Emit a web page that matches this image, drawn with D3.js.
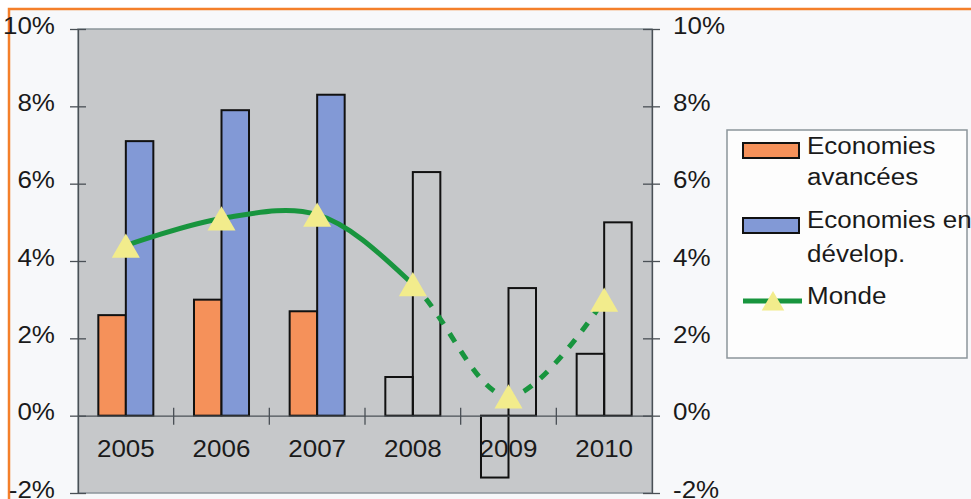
<!DOCTYPE html>
<meta charset="utf-8">
<style>
body { margin: 0; background: #fff; }
svg { display: block; font-family: "Liberation Sans", Arial, sans-serif; }
.axe text { font-size: 23px; fill: #1a1a1a; }
.axe path, .axe line { stroke: #4a5056; stroke-width: 1.3px; }
</style>
<svg width="971" height="499"></svg>
<script src="https://d3js.org/d3.v7.min.js"></script>
<script>

// donnees
var annees = ["2005", "2006", "2007", "2008", "2009", "2010"];
var avancees = [2.6, 3.0, 2.7, 1.0, -1.6, 1.6];
var enDevelop = [7.1, 7.9, 8.3, 6.3, 3.3, 5.0];
var monde = [4.4, 5.1, 5.2, 3.4, 0.5, 3.0];
var prevision = [false, false, false, true, true, true];
var yTicks = [-2, 0, 2, 4, 6, 8, 10];
var series = ["Economies avancées", "Economies en dévelop."];

var svg = d3.select("svg"),
    width = +svg.attr("width"),
    height = +svg.attr("height");

var sx = 1.13; // les textes de l'image sont un peu etires

var orange = "#f5915a", bleu = "#8299d6", vert = "#18953e", jaune = "#f2ec8c", gris = "#c6c8ca";

// fond + cadre orange
svg.append("rect").attr("x", 9).attr("y", 9).attr("width", width + 20).attr("height", height + 20)
    .attr("fill", "#f7f8fa").attr("stroke", "#f47f2a").attr("stroke-width", 2.5);

var x = d3.scaleBand().domain(annees).range([78, 652]).paddingInner(0.425).paddingOuter(0.2125);
var x1 = d3.scaleBand().domain([0, 1]).range([0, x.bandwidth()]);
var y = d3.scaleLinear().domain([-2, 10]).range([493, 29]);

// zone de trace
svg.append("rect").attr("x", 78).attr("y", 29).attr("width", 574).attr("height", 464)
    .attr("fill", gris).attr("stroke", "#8c959b").attr("stroke-width", 1.5);

// barres
var rows = annees.map(function(a, i) {
  return { annee: a, vals: [avancees[i], enDevelop[i]], prev: prevision[i] };
});

var groupes = svg.append("g").selectAll("g")
  .data(rows)
  .enter().append("g")
    .attr("transform", function(d) { return "translate(" + x(d.annee) + ",0)"; });

groupes.selectAll("rect")
  .data(function(d) { return d.vals.map(function(v, j) { return { v: v, j: j, prev: d.prev }; }); })
  .enter().append("rect")
    .attr("x", function(d) { return x1(d.j); })
    .attr("width", x1.bandwidth())
    .attr("y", function(d) { return y(Math.max(0, d.v)); })
    .attr("height", function(d) { return Math.abs(y(d.v) - y(0)); })
    .attr("fill", function(d) { return d.prev ? "none" : (d.j === 0 ? orange : bleu); })
    .attr("stroke", "#111")
    .attr("stroke-width", 2);

// axe gauche
var axeG = svg.append("g").attr("class", "axe").attr("transform", "translate(78,0)")
    .call(d3.axisLeft(y).tickValues(yTicks).tickSize(8).tickSizeOuter(0).tickPadding(12.4)
      .tickFormat(function(d) { return d + "%"; }));
axeG.selectAll(".tick line").attr("x1", 8).attr("x2", -8);
axeG.selectAll("text").attr("dy", "0.18em").attr("transform", "scale(" + sx + ",1)");

// axe droit
var axeD = svg.append("g").attr("class", "axe").attr("transform", "translate(652,0)")
    .call(d3.axisRight(y).tickValues(yTicks).tickSize(8).tickSizeOuter(0).tickPadding(10.6)
      .tickFormat(function(d) { return d + "%"; }));
axeD.selectAll(".tick line").attr("x1", -9).attr("x2", 8);
axeD.selectAll("text").attr("dy", "0.18em").attr("transform", "scale(" + sx + ",1)");

// axe des annees sur la ligne 0
var axeX = svg.append("g").attr("class", "axe").attr("transform", "translate(0," + y(0) + ")")
    .call(d3.axisBottom(x).tickSize(0).tickSizeOuter(0).tickPadding(25.5));
axeX.selectAll("text").attr("transform", "scale(" + sx + ",1)")
    .attr("x", function() { return 0; });
axeX.selectAll(".tick text").each(function() {
  // garder le texte centre malgre l'etirement
  d3.select(this).attr("transform", "scale(" + sx + ",1)");
});
var pasX = x.step();
axeX.selectAll(".sep")
  .data(annees.slice(1))
  .enter().append("line")
    .attr("class", "sep")
    .attr("x1", function(d) { return x(d) - pasX * x.paddingInner() / 2; })
    .attr("x2", function(d) { return x(d) - pasX * x.paddingInner() / 2; })
    .attr("y1", -8).attr("y2", 9);

// courbe Monde
var pts = annees.map(function(a, i) { return [x(a) + x.bandwidth() / 2, y(monde[i])]; });
var ligne = d3.line().curve(d3.curveCatmullRom.alpha(0.5));
var coupe = pts[3][0];

var defs = svg.append("defs");
defs.append("clipPath").attr("id", "avant").append("rect")
    .attr("x", 0).attr("y", 0).attr("width", coupe).attr("height", height);
defs.append("clipPath").attr("id", "apres").append("rect")
    .attr("x", coupe).attr("y", 0).attr("width", width - coupe).attr("height", height);

svg.append("path").attr("d", ligne(pts)).attr("fill", "none")
    .attr("stroke", vert).attr("stroke-width", 5).attr("clip-path", "url(#avant)");
svg.append("path").attr("d", ligne(pts)).attr("fill", "none")
    .attr("stroke", vert).attr("stroke-width", 5).attr("stroke-dasharray", "10,11")
    .attr("stroke-dashoffset", -230).attr("clip-path", "url(#apres)");

var tailleTri = 340;
var rTri = Math.sqrt(tailleTri / (3 * Math.sqrt(3)));
svg.append("g").selectAll("path")
  .data(pts)
  .enter().append("path")
    .attr("d", d3.symbol(d3.symbolTriangle, tailleTri))
    .attr("transform", function(d) { return "translate(" + d[0] + "," + (d[1] + rTri / 2) + ")"; })
    .attr("fill", jaune);

// legende
var leg = svg.append("g");
leg.append("rect").attr("x", 727).attr("y", 130).attr("width", 240).attr("height", 228)
    .attr("fill", "#fdfdfd").attr("stroke", "#8c959b").attr("stroke-width", 1.5);

var legTextes = [
  { t: "Economies", y: 154 }, { t: "avancées", y: 185 },
  { t: "Economies en", y: 228 }, { t: "dévelop.", y: 262 },
  { t: "Monde", y: 304 }
];
leg.selectAll("text")
  .data(legTextes)
  .enter().append("text")
    .attr("transform", function(d) { return "translate(807," + d.y + ") scale(" + sx + ",1)"; })
    .attr("font-size", 23)
    .attr("fill", "#1a1a1a")
    .text(function(d) { return d.t; });

leg.selectAll(".swatch")
  .data([orange, bleu])
  .enter().append("rect")
    .attr("class", "swatch")
    .attr("x", 743).attr("y", function(d, i) { return i === 0 ? 143 : 218; })
    .attr("width", 56).attr("height", 15)
    .attr("fill", function(d) { return d; })
    .attr("stroke", "#111").attr("stroke-width", 2);

leg.append("line").attr("x1", 743).attr("x2", 802).attr("y1", 301).attr("y2", 301)
    .attr("stroke", vert).attr("stroke-width", 5);
leg.append("path").attr("d", d3.symbol(d3.symbolTriangle, 220))
    .attr("transform", "translate(773," + (301 + 3) + ")")
    .attr("fill", jaune);

</script>
